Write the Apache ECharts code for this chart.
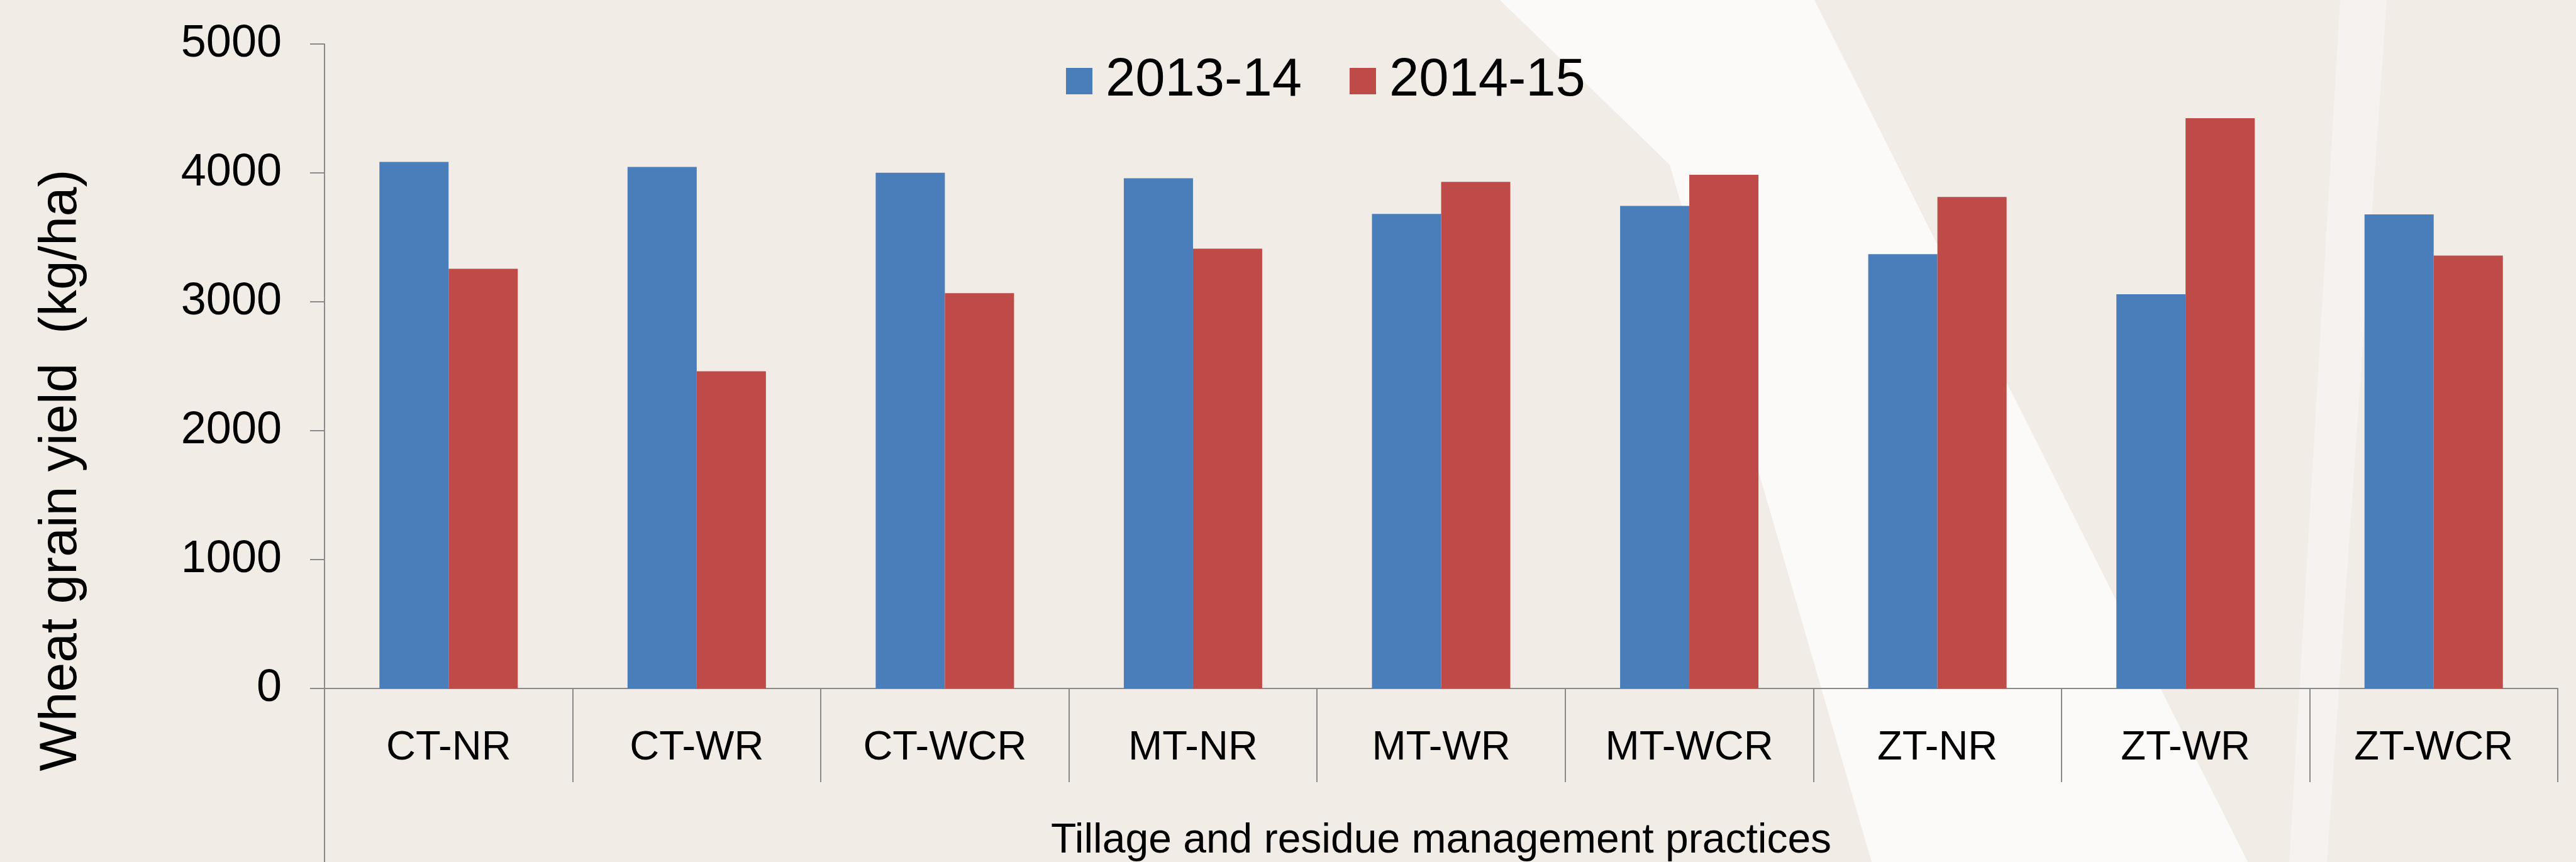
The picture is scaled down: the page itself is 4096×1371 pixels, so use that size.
<!DOCTYPE html>
<html>
<head>
<meta charset="utf-8">
<script src="https://cdn.jsdelivr.net/npm/echarts@6/dist/echarts.min.js"></script>
<style>
html,body{margin:0;padding:0;background:#F2ECE7;}
#chart{width:4096px;height:1371px;}
</style>
</head>
<body>
<div id="chart"></div>
<script>
// ---- data ----
const categories = ['CT-NR','CT-WR','CT-WCR','MT-NR','MT-WR','MT-WCR','ZT-NR','ZT-WR','ZT-WCR'];
const seriesNames = ['2013-14','2014-15'];
const yield201314 = [4085, 4046, 4001, 3959, 3682, 3744, 3370, 3059, 3678];
const yield201415 = [3256, 2461, 3067, 3412, 3931, 3985, 3814, 4424, 3358];
const yTicks = [0, 1000, 2000, 3000, 4000, 5000];
const yTitle = 'Wheat grain yield  (kg/ha)';
const xTitle = 'Tillage and residue management practices';

const FONT = "'Liberation Sans', Arial, sans-serif";
const AXIS_GRAY = '#8A8A8A';

const chart = echarts.init(document.getElementById('chart'), null, {renderer: 'canvas'});

function decor(rect) {
  const g = [
    {type: 'polygon', z: -10, silent: true,
     shape: {points: [[2385,0],[2885,0],[3574,1371],[2976,1371],[2655,262]]},
     style: {fill: 'rgba(255,255,255,0.75)'}},
    {type: 'polygon', z: -10, silent: true,
     shape: {points: [[3721,0],[3795,0],[3700,1371],[3640,1371]]},
     style: {fill: 'rgba(255,255,255,0.35)'}},
    {type: 'text', z: 10, x: 98, y: 748, rotation: Math.PI / 2,
     style: {text: yTitle, fontFamily: FONT, fontSize: 84, fill: '#000',
             textAlign: 'center', textVerticalAlign: 'middle'}}
  ];
  if (rect) {
    g.push({type: 'line', z: 10, silent: true,
      shape: {x1: rect.x, y1: rect.y + rect.height, x2: rect.x, y2: 1371},
      style: {stroke: AXIS_GRAY, lineWidth: 2}});
  }
  return g;
}

const option = {
  backgroundColor: '#F2ECE7',
  animation: false,
  textStyle: {fontFamily: FONT},
  grid: {left: 516, right: 29, top: 70, bottom: 276, containLabel: false, outerBoundsMode: 'none'},
  legend: {
    data: seriesNames,
    left: 1690, top: 79,
    itemWidth: 42, itemHeight: 42, itemGap: 76,
    icon: 'rect',
    textStyle: {fontFamily: FONT, fontSize: 85, color: '#000', lineHeight: 90, padding: [0, 0, 0, 16]}
  },
  xAxis: {
    type: 'category',
    data: categories,
    boundaryGap: true,
    name: xTitle,
    nameLocation: 'middle',
    nameGap: 204,
    nameTextStyle: {fontFamily: FONT, fontSize: 66, color: '#000', lineHeight: 78},
    axisLine: {show: true, lineStyle: {color: AXIS_GRAY, width: 2}},
    axisTick: {show: true, inside: false, length: 149, lineStyle: {color: AXIS_GRAY, width: 2}},
    axisLabel: {fontFamily: FONT, fontSize: 65, color: '#000', margin: 56, lineHeight: 78, interval: 0},
    splitLine: {show: false}
  },
  yAxis: {
    type: 'value',
    min: yTicks[0], max: yTicks[yTicks.length - 1], interval: yTicks[1] - yTicks[0],
    axisLine: {show: true, lineStyle: {color: AXIS_GRAY, width: 2}},
    axisTick: {show: true, inside: false, length: 23, lineStyle: {color: AXIS_GRAY, width: 2}},
    axisLabel: {fontFamily: FONT, fontSize: 72, color: '#000', margin: 68,
                formatter: function (v) { return String(v); }},
    splitLine: {show: false}
  },
  series: [
    {name: seriesNames[0], type: 'bar', data: yield201314, barWidth: 110, barGap: '0%',
     itemStyle: {color: '#4A7EBB'}},
    {name: seriesNames[1], type: 'bar', data: yield201415, barWidth: 110, barGap: '0%',
     itemStyle: {color: '#BE4B48'}}
  ],
  graphic: decor(null)
};
chart.setOption(option);

// extend the y-axis line below the category band (as in the reference), using the grid's own rect
const rect = chart.getModel().getComponent('grid').coordinateSystem.getRect();
chart.setOption({graphic: decor(rect)}, {replaceMerge: ['graphic']});
</script>
</body>
</html>
